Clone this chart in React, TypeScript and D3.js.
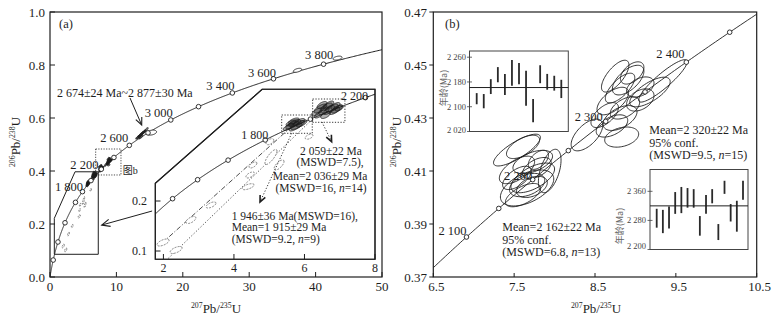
import React from "react";
import * as d3 from "d3";

// ---------- decay constants (concordia) ----------
const LAMBDA_238 = 1.55125e-10;
const LAMBDA_235 = 9.8485e-10;
const concordia = (ma: number): [number, number] => [
  Math.expm1(LAMBDA_235 * ma * 1e6),
  Math.expm1(LAMBDA_238 * ma * 1e6),
];

// ---------- axis ticks ----------
const aTicksX = [0, 10, 20, 30, 40, 50];
const aTicksY = [0, 0.2, 0.4, 0.6, 0.8, 1.0];
const insetTicksX = [2, 4, 6, 8];
const insetTicksY = [0.1, 0.2];
const bTicksX = [6.5, 7.5, 8.5, 9.5, 10.5];
const bTicksY = [0.37, 0.39, 0.41, 0.43, 0.45, 0.47];
const hist1Ticks = [2020, 2100, 2180, 2260];
const hist2Ticks = [2200, 2280, 2360];

// ---------- concordia age markers / labels ----------
const aMarkerAges = [400, 800, 1200, 1600, 1800, 2000, 2200, 2400, 2600, 2800, 3000, 3200, 3400, 3600, 3800];
const aLabelAges = [1800, 2200, 2600, 3000, 3400, 3600, 3800];
const insetMarkerAges = [1200, 1400, 1600, 1800, 2000, 2200];
const insetLabelAges = [1800, 2200];
const bMarkerAges = [2100, 2150, 2200, 2250, 2300, 2350, 2400, 2450];
const bLabelAges = [2100, 2200, 2300, 2400];

// ---------- error ellipses: [207Pb/235U, sx, 206Pb/238U, sy, rho] ----------
type Ell = [number, number, number, number, number];
const group2320: Ell[] = [
  [8.40, 0.195, 0.4236, 0.0060, 0.6],
  [8.83, 0.210, 0.4228, 0.0038, 0.3],
  [8.71, 0.195, 0.4270, 0.0042, 0.5],
  [8.81, 0.210, 0.4300, 0.0047, 0.5],
  [8.62, 0.170, 0.4311, 0.0047, 0.6],
  [8.87, 0.182, 0.4338, 0.0042, 0.5],
  [8.72, 0.195, 0.4364, 0.0052, 0.6],
  [9.06, 0.170, 0.4368, 0.0042, 0.4],
  [8.81, 0.182, 0.4413, 0.0056, 0.7],
  [8.91, 0.195, 0.4443, 0.0056, 0.6],
  [8.75, 0.170, 0.4458, 0.0060, 0.7],
  [8.96, 0.145, 0.4470, 0.0042, 0.5],
  [9.34, 0.300, 0.4440, 0.0080, 0.9],
  [9.18, 0.250, 0.4398, 0.0056, 0.7],
  [9.06, 0.170, 0.4417, 0.0038, 0.4],
];
const group2162: Ell[] = [
  [7.535, 0.290, 0.4179, 0.0060, 0.8],
  [7.61, 0.205, 0.4191, 0.0044, 0.6],
  [7.73, 0.245, 0.4134, 0.0044, 0.5],
  [7.535, 0.218, 0.4104, 0.0052, 0.6],
  [7.73, 0.270, 0.4074, 0.0056, 0.6],
  [7.66, 0.330, 0.4036, 0.0068, 0.5],
  [7.66, 0.218, 0.4047, 0.0044, 0.4],
  [7.94, 0.140, 0.4100, 0.0082, 0.5],
  [7.61, 0.218, 0.4009, 0.0044, 0.6],
  [7.78, 0.178, 0.4111, 0.0040, 0.5],
  [7.535, 0.178, 0.4074, 0.0044, 0.6],
  [7.72, 0.190, 0.4040, 0.0040, 0.4],
  [7.80, 0.125, 0.4142, 0.0036, 0.5],
];
const group1946: Ell[] = [
  [5.55, 0.15, 0.348, 0.007, 0.7],
  [5.65, 0.18, 0.352, 0.008, 0.7],
  [5.72, 0.17, 0.356, 0.007, 0.6],
  [5.80, 0.20, 0.352, 0.009, 0.7],
  [5.85, 0.16, 0.358, 0.007, 0.7],
  [5.62, 0.14, 0.356, 0.006, 0.6],
  [5.92, 0.15, 0.355, 0.007, 0.7],
  [5.75, 0.18, 0.348, 0.008, 0.8],
  [5.70, 0.15, 0.360, 0.006, 0.6],
];
const group2059: Ell[] = [
  [6.35, 0.15, 0.378, 0.008, 0.7],
  [6.45, 0.18, 0.385, 0.009, 0.7],
  [6.55, 0.15, 0.380, 0.008, 0.6],
  [6.62, 0.17, 0.388, 0.008, 0.7],
  [6.70, 0.16, 0.382, 0.009, 0.7],
  [6.78, 0.18, 0.386, 0.008, 0.6],
  [6.85, 0.15, 0.380, 0.007, 0.7],
  [6.92, 0.16, 0.384, 0.008, 0.7],
  [6.50, 0.14, 0.392, 0.007, 0.6],
  [6.68, 0.15, 0.392, 0.008, 0.7],
  [6.40, 0.12, 0.372, 0.006, 0.6],
  [6.60, 0.14, 0.372, 0.007, 0.6],
  [6.88, 0.13, 0.390, 0.007, 0.6],
  [6.98, 0.12, 0.386, 0.006, 0.5],
];
const discordant: Ell[] = [
  [5.02, 0.11, 0.3186, 0.006, 0.5],
  [5.05, 0.17, 0.288, 0.015, 0.8],
  [5.28, 0.14, 0.272, 0.010, 0.7],
  [4.54, 0.11, 0.272, 0.006, 0.6],
  [4.46, 0.12, 0.252, 0.006, 0.6],
  [4.40, 0.17, 0.2286, 0.006, 0.6],
  [3.35, 0.14, 0.192, 0.006, 0.6],
  [2.78, 0.14, 0.162, 0.007, 0.6],
  [1.99, 0.17, 0.117, 0.007, 0.6],
  [2.36, 0.17, 0.102, 0.007, 0.6],
  [6.13, 0.11, 0.3286, 0.005, 0.5],
];
const group2700: Ell[] = [
  [13.2, 0.30, 0.527, 0.007, 0.8],
  [13.4, 0.35, 0.530, 0.008, 0.8],
  [13.6, 0.35, 0.535, 0.008, 0.8],
  [13.7, 0.30, 0.528, 0.007, 0.8],
  [13.8, 0.40, 0.540, 0.009, 0.8],
  [14.0, 0.35, 0.545, 0.008, 0.8],
  [14.2, 0.30, 0.548, 0.008, 0.8],
  [14.5, 0.30, 0.556, 0.008, 0.8],
];
const open2700: Ell[] = [[15.3, 0.75, 0.545, 0.0094, 0.3]];
const oldGrains: Ell[] = [
  [37.27, 0.63, 0.780, 0.0075, 0.5],
  [43.3, 0.68, 0.826, 0.0075, 0.4],
];

// ---------- weighted-mean age bars (Ma, lower / upper) ----------
const ages2162: [number, number][] = [
  [2108, 2144], [2095, 2141], [2141, 2189], [2179, 2228], [2138, 2206], [2168, 2251], [2173, 2241],
  [2103, 2216], [2050, 2125], [2176, 2234], [2155, 2206], [2152, 2200], [2128, 2187],
];
const mean2162 = 2162;
const ages2320: [number, number][] = [
  [2260, 2312], [2245, 2309], [2258, 2318], [2298, 2358], [2300, 2372], [2315, 2369], [2315, 2366],
  [2238, 2292], [2298, 2350], [2327, 2366], [2226, 2270], [2353, 2389], [2277, 2325], [2249, 2334],
  [2337, 2389],
];
const mean2320 = 2320;

// ---------- helpers ----------
const FONT = '"Liberation Serif", "Times New Roman", "Noto Sans CJK SC", serif';
const CJK = '"Noto Sans CJK SC", sans-serif';
const INK = "#1e1e1e";

type Sc = d3.ScaleLinear<number, number>;

function ellPath(e: Ell, xs: Sc, ys: Sc): string {
  const [cx, sx, cy, sy, r] = e;
  const k = Math.sqrt(1 - r * r);
  const pts: [number, number][] = d3.range(72).map((i) => {
    const t = (i / 72) * 2 * Math.PI;
    return [xs(cx + sx * Math.cos(t)), ys(cy + sy * (r * Math.cos(t) + k * Math.sin(t)))];
  });
  return d3.line().curve(d3.curveLinearClosed)(pts) || "";
}

function concPath(a0: number, a1: number, xs: Sc, ys: Sc): string {
  const pts: [number, number][] = d3.range(a0, a1 + 1, 4).map((a) => {
    const [x, y] = concordia(a);
    return [xs(x), ys(y)];
  });
  return d3.line()(pts) || "";
}

function Arrow({ x1, y1, x2, y2, size = 7, dash, width = 1, headWidth = 1 }: any) {
  const a = Math.atan2(y2 - y1, x2 - x1);
  const sp = 0.42;
  const h1 = [x2 - size * Math.cos(a - sp), y2 - size * Math.sin(a - sp)];
  const h2 = [x2 - size * Math.cos(a + sp), y2 - size * Math.sin(a + sp)];
  return (
    <g stroke={INK} fill="none">
      <line x1={x1} y1={y1} x2={x2} y2={y2} strokeWidth={width} strokeDasharray={dash} />
      <path d={`M${h1[0]},${h1[1]}L${x2},${y2}L${h2[0]},${h2[1]}`} strokeWidth={headWidth} />
    </g>
  );
}

function Iso({ top, bot, fs = 13, x, y, anchor = "middle", transform }: any) {
  return (
    <text x={x} y={y} textAnchor={anchor} fontSize={fs} fontFamily={FONT} fill={INK} transform={transform}>
      <tspan fontSize={fs * 0.6} dy={-fs * 0.38}>{top}</tspan>
      <tspan dy={fs * 0.38}>Pb/</tspan>
      <tspan fontSize={fs * 0.6} dy={-fs * 0.38}>{bot}</tspan>
      <tspan dy={fs * 0.38}>U</tspan>
    </text>
  );
}

const fmtAge = (a: number) => {
  const s = String(a);
  return s.length > 3 ? s.slice(0, s.length - 3) + " " + s.slice(-3) : s;
};

export default function App() {
  const xA = d3.scaleLinear().domain([0, 50]).range([50, 382]);
  const yA = d3.scaleLinear().domain([0, 1]).range([277, 12]);
  const xI = d3.scaleLinear().domain([1.77, 8]).range([155.3, 375]);
  const yI = d3.scaleLinear().domain([0.0834, 0.4234]).range([259.3, 89.3]);
  const xB = d3.scaleLinear().domain([6.5, 10.5]).range([433.3, 756.7]);
  const yB = d3.scaleLinear().domain([0.37, 0.47]).range([277, 12]);
  const h1x = d3.scalePoint<number>().domain(d3.range(ages2162.length)).range([476.7, 561.3]);
  const h1y = d3.scaleLinear().domain([2020, 2280]).range([131.5, 51]);
  const h2x = d3.scalePoint<number>().domain(d3.range(ages2320.length)).range([656.7, 743]);
  const h2y = d3.scaleLinear().domain([2200, 2420]).range([249.5, 169.5]);

  const insetPoly: [number, number][] = [
    [1.77, 0.0834], [8, 0.0834], [8, 0.4234], [4.8, 0.4234], [1.77, 0.2354],
  ];
  const insetPolyStr = insetPoly.map(([x, y]) => `${xI(x)},${yI(y)}`).join(" ");
  const boxPoly: [number, number][] = [
    [0.65, 0.0857], [7.27, 0.0857], [7.27, 0.397], [3.77, 0.397], [0.65, 0.2215],
  ];
  const boxPolyStr = boxPoly.map(([x, y]) => `${xA(x)},${yA(y)}`).join(" ");

  const aLabelOff: Record<number, [number, number]> = {
    1800: [-13.5, -5], 2200: [-17, -5], 2600: [-15, -8], 3000: [-12, -7],
    3400: [-12, -7], 3600: [-11.5, -6], 3800: [-4.5, -10],
  };
  const insetLabelOff: Record<number, [number, number]> = { 1800: [-10.5, -5], 2200: [-11, -2.5] };
  const bLabelOff: Record<number, [number, number]> = {
    2100: [-14, -7], 2200: [-14.5, -4], 2300: [-17, -4.5], 2400: [-16, -8.5],
  };

  const circle = (x: number, y: number, key: any) => (
    <circle key={key} cx={x} cy={y} r={2.3} fill="#fff" stroke={INK} strokeWidth={0.9} />
  );

  return (
    <svg
      width={773}
      height={319}
      viewBox="0 0 773 319"
      style={{ position: "absolute", left: 0, top: 0, background: "#fff" }}
      fontFamily={FONT}
    >
      <defs>
        <clipPath id="clipA">
          <rect x={50} y={12} width={332} height={265} />
        </clipPath>
        <clipPath id="clipI">
          <polygon points={insetPolyStr} />
        </clipPath>
        <clipPath id="clipB">
          <rect x={433.3} y={12} width={323.4} height={265} />
        </clipPath>
      </defs>
      <rect x={0} y={0} width={773} height={319} fill="#fff" />

      {/* ================= PANEL A ================= */}
      <g clipPath="url(#clipA)">
        <path d={concPath(0, 4200, xA, yA)} fill="none" stroke={INK} strokeWidth={1} />
        {discordant.map((e, i) => (
          <path key={"da" + i} d={ellPath(e, xA, yA)} fill="none" stroke={INK} strokeWidth={0.6} strokeDasharray="1.5,1" />
        ))}
        {[...group1946, ...group2059, ...group2162, ...group2320, ...group2700].map((e, i) => (
          <path key={"ga" + i} d={ellPath(e, xA, yA)} fill={INK} fillOpacity={0.55} stroke={INK} strokeWidth={0.7} />
        ))}
        {[...open2700, ...oldGrains].map((e, i) => (
          <path key={"oa" + i} d={ellPath(e, xA, yA)} fill="#fff" stroke={INK} strokeWidth={0.9} />
        ))}
        {aMarkerAges.map((a) => {
          const [x, y] = concordia(a);
          return circle(xA(x), yA(y), "ma" + a);
        })}
      </g>
      <rect x={50} y={12} width={332} height={265} fill="none" stroke={INK} strokeWidth={1.2} />
      {aTicksX.map((t) => (
        <g key={"axt" + t}>
          <line x1={xA(t)} x2={xA(t)} y1={277} y2={272} stroke={INK} />
          <text x={xA(t)} y={291} textAnchor="middle" fontSize={13} fill={INK}>{t}</text>
        </g>
      ))}
      {aTicksY.map((t) => (
        <g key={"ayt" + t}>
          <line x1={50} x2={55} y1={yA(t)} y2={yA(t)} stroke={INK} />
          <text x={45} y={yA(t) + 4.5} textAnchor="end" fontSize={13} fill={INK}>{t.toFixed(1)}</text>
        </g>
      ))}
      <Iso top="207" bot="235" x={216} y={313} />
      <Iso top="206" bot="238" x={0} y={0} transform="translate(20,142) rotate(-90)" />
      <text x={59} y={28} fontSize={12.5} fill={INK}>(a)</text>

      {aLabelAges.map((a) => {
        const [x, y] = concordia(a);
        const [dx, dy] = aLabelOff[a];
        return (
          <text key={"la" + a} x={xA(x) + dx} y={yA(y) + dy + 4.5} textAnchor="middle" fontSize={12.5} fill={INK}>
            {fmtAge(a)}
          </text>
        );
      })}

      <text x={57} y={97} fontSize={12} fill={INK}>2 674±24 Ma~2 877±30 Ma</text>
      <Arrow x1={xA(12.05)} y1={yA(0.6755)} x2={xA(13.81)} y2={yA(0.5736)} size={8} width={1} headWidth={1.1} />

      <rect
        x={xA(6.88)} y={yA(0.483)} width={xA(10.69) - xA(6.88)} height={yA(0.385) - yA(0.483)}
        fill="none" stroke={INK} strokeWidth={0.8} strokeDasharray="1.2,1.4"
      />
      <text x={122.7} y={174} fontSize={10} fill={INK} fontFamily={FONT}>图b</text>

      <polygon points={boxPolyStr} fill="none" stroke={INK} strokeWidth={1} />
      <Arrow x1={xA(15.38)} y1={yA(0.249)} x2={xA(7.79)} y2={yA(0.196)} size={9} width={1} headWidth={1.1} />

      {/* ================= INSET ================= */}
      <polygon points={insetPolyStr} fill="#fff" stroke={INK} strokeWidth={1.1} />
      <g clipPath="url(#clipI)">
        <path d={concPath(900, 2500, xI, yI)} fill="none" stroke={INK} strokeWidth={1} />
        <line x1={xI(1.955)} y1={yI(0.1154)} x2={xI(5.59)} y2={yI(0.346)} stroke={INK} strokeWidth={0.8} strokeDasharray="5,2,1,2" />
        <line x1={xI(2.14)} y1={yI(0.0854)} x2={xI(6.2)} y2={yI(0.362)} stroke={INK} strokeWidth={0.8} strokeDasharray="1.2,2" />
        {discordant.map((e, i) => (
          <path key={"di" + i} d={ellPath(e, xI, yI)} fill="#fff" stroke="#555" strokeWidth={0.75} strokeDasharray="2,1.2" />
        ))}
        {[...group1946, ...group2059].map((e, i) => (
          <path key={"gi" + i} d={ellPath(e, xI, yI)} fill={INK} fillOpacity={0.35} stroke={INK} strokeWidth={0.8} />
        ))}
        {insetMarkerAges.map((a) => {
          const [x, y] = concordia(a);
          return circle(xI(x), yI(y), "mi" + a);
        })}
        <rect x={xI(5.354)} y={yI(0.372)} width={xI(6.221) - xI(5.354)} height={yI(0.3354) - yI(0.372)}
          fill="none" stroke={INK} strokeWidth={0.9} strokeDasharray="1.2,1.6" />
        <rect x={xI(6.232)} y={yI(0.404)} width={xI(7.147) - xI(6.232)} height={yI(0.3574) - yI(0.404)}
          fill="none" stroke={INK} strokeWidth={0.9} strokeDasharray="1.2,1.6" />
      </g>
      <polygon points={insetPolyStr} fill="none" stroke={INK} strokeWidth={1.1} />
      {insetTicksX.map((t) => (
        <g key={"ixt" + t}>
          <line x1={xI(t)} x2={xI(t)} y1={259.3} y2={254} stroke={INK} />
          <text x={xI(t)} y={272} textAnchor="middle" fontSize={12} fill={INK}>{t}</text>
        </g>
      ))}
      {insetTicksY.map((t) => (
        <g key={"iyt" + t}>
          <line x1={155.3} x2={160.5} y1={yI(t)} y2={yI(t)} stroke={INK} />
          <text x={147} y={yI(t) + 4} textAnchor="end" fontSize={12} fill={INK}>{t.toFixed(1)}</text>
        </g>
      ))}
      {insetLabelAges.map((a) => {
        const [x, y] = concordia(a);
        const [dx, dy] = insetLabelOff[a];
        return (
          <text key={"li" + a} x={xI(x) + dx} y={yI(y) + dy + 4.5} textAnchor="middle" fontSize={12} fill={INK}>
            {fmtAge(a)}
          </text>
        );
      })}
      <Arrow x1={xI(6.496)} y1={yI(0.358)} x2={xI(6.77)} y2={yI(0.3186)} size={7} width={0.9} dash="1.2,1.8" headWidth={1.6} />
      <Arrow x1={xI(5.637)} y1={yI(0.3354)} x2={xI(4.74)} y2={yI(0.198)} size={7} width={0.9} dash="1.2,1.8" headWidth={1.6} />
      <g fontSize={11.5} fill={INK}>
        <text x={331} y={154.5} textAnchor="middle">2 059±22 Ma</text>
        <text x={330} y={166} textAnchor="middle">(MSWD=7.5),</text>
        <text x={320} y={180} textAnchor="middle">Mean=2 036±29 Ma</text>
        <text x={321} y={192} textAnchor="middle">(MSWD=16, <tspan fontStyle="italic">n</tspan>=14)</text>
        <text x={231.7} y={219.5}>1 946±36 Ma(MSWD=16),</text>
        <text x={231.7} y={231}>Mean=1 915±29 Ma</text>
        <text x={231.7} y={242.5}>(MSWD=9.2, <tspan fontStyle="italic">n</tspan>=9)</text>
      </g>

      {/* ================= PANEL B ================= */}
      <g clipPath="url(#clipB)">
        <path d={concPath(1950, 2550, xB, yB)} fill="none" stroke={INK} strokeWidth={0.9} />
        {[...group2162, ...group2320].map((e, i) => (
          <path key={"gb" + i} d={ellPath(e, xB, yB)} fill="none" stroke={INK} strokeWidth={0.9} />
        ))}
        {bMarkerAges.map((a) => {
          const [x, y] = concordia(a);
          return circle(xB(x), yB(y), "mb" + a);
        })}
      </g>
      <rect x={433.3} y={12} width={323.4} height={265} fill="none" stroke={INK} strokeWidth={1.2} />
      {bTicksX.map((t) => (
        <g key={"bxt" + t}>
          <line x1={xB(t)} x2={xB(t)} y1={277} y2={273} stroke={INK} />
          <text x={xB(t) + 3} y={291} textAnchor="middle" fontSize={13} fill={INK}>{t.toFixed(1)}</text>
        </g>
      ))}
      {bTicksY.map((t) => (
        <g key={"byt" + t}>
          <line x1={429.3} x2={433.3} y1={yB(t)} y2={yB(t)} stroke={INK} />
          <text x={427} y={yB(t) + 4.5} textAnchor="end" fontSize={13} fill={INK}>{t.toFixed(2)}</text>
        </g>
      ))}
      <Iso top="207" bot="235" x={596} y={313} />
      <Iso top="206" bot="238" x={0} y={0} transform="translate(401,142) rotate(-90)" />
      <text x={445} y={28} fontSize={12.5} fill={INK}>(b)</text>
      {bLabelAges.map((a) => {
        const [x, y] = concordia(a);
        const [dx, dy] = bLabelOff[a];
        return (
          <text key={"lb" + a} x={xB(x) + dx} y={yB(y) + dy + 4.5} textAnchor="middle" fontSize={12.5} fill={INK}>
            {fmtAge(a)}
          </text>
        );
      })}
      <g fontSize={12} fill={INK}>
        <text x={649.3} y={134}>Mean=2 320±22 Ma</text>
        <text x={649.3} y={146.5}>95% conf.</text>
        <text x={649.3} y={159}>(MSWD=9.5, <tspan fontStyle="italic">n</tspan>=15)</text>
        <text x={502.3} y={231}>Mean=2 162±22 Ma</text>
        <text x={502.3} y={243.5}>95% conf.</text>
        <text x={502.3} y={256}>(MSWD=6.8, <tspan fontStyle="italic">n</tspan>=13)</text>
      </g>

      {/* histogram inset 1 */}
      <rect x={469.5} y={51} width={98.8} height={80.5} fill="#fff" stroke="#444" strokeWidth={1} />
      {hist1Ticks.map((t) => (
        <g key={"h1t" + t}>
          <line x1={467} x2={472} y1={h1y(t)} y2={h1y(t)} stroke="#444" strokeWidth={0.8} />
          <text x={466} y={Math.min(h1y(t), 130) + 3} textAnchor="end" fontSize={8.5} fill="#444">{fmtAge(t)}</text>
        </g>
      ))}
      {ages2162.map(([lo, hi], i) => (
        <line key={"h1b" + i} x1={h1x(i)} x2={h1x(i)} y1={h1y(lo)} y2={h1y(hi)} stroke="#2a2a2a" strokeWidth={1.8} />
      ))}
      <line x1={469.5} x2={568.3} y1={h1y(mean2162)} y2={h1y(mean2162)} stroke={INK} strokeWidth={1} />
      <text transform="translate(446.5,88) rotate(-90)" textAnchor="middle" fontSize={9} fill="#666" fontFamily={CJK}>年龄(Ma)</text>

      {/* histogram inset 2 */}
      <rect x={650} y={169.5} width={98} height={80} fill="#fff" stroke="#444" strokeWidth={1} />
      {hist2Ticks.map((t) => (
        <g key={"h2t" + t}>
          <line x1={647.5} x2={652.5} y1={h2y(t)} y2={h2y(t)} stroke="#444" strokeWidth={0.8} />
          <text x={646} y={Math.min(h2y(t), 246) + 3} textAnchor="end" fontSize={8.5} fill="#444">{fmtAge(t)}</text>
        </g>
      ))}
      {ages2320.map(([lo, hi], i) => (
        <line key={"h2b" + i} x1={h2x(i)} x2={h2x(i)} y1={h2y(lo)} y2={h2y(hi)} stroke="#2a2a2a" strokeWidth={1.8} />
      ))}
      <line x1={650} x2={748} y1={h2y(mean2320)} y2={h2y(mean2320)} stroke={INK} strokeWidth={1} />
      <text transform="translate(623,226) rotate(-90)" textAnchor="middle" fontSize={9} fill="#666" fontFamily={CJK}>年龄(Ma)</text>
    </svg>
  );
}
